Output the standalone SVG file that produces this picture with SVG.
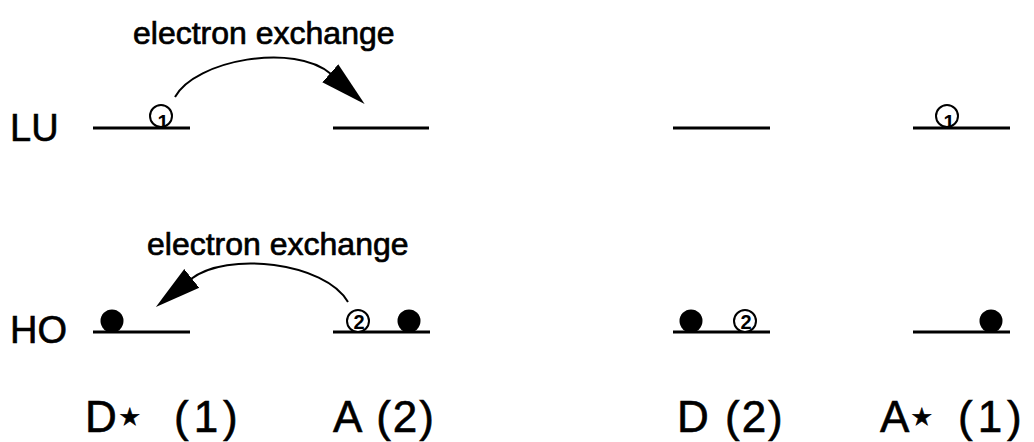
<svg xmlns="http://www.w3.org/2000/svg" width="1034" height="442" viewBox="0 0 1034 442">
<style>
.lbl{font-family:"Liberation Sans",Arial,sans-serif;font-size:38px;fill:#000;stroke:#000;stroke-width:0.6}
.big{font-family:"Liberation Sans",Arial,sans-serif;font-size:44px;letter-spacing:2px;fill:#000;stroke:#000;stroke-width:0.6}
.cap{font-family:"Liberation Sans",Arial,sans-serif;font-size:32px;fill:#000;stroke:#000;stroke-width:0.7}
.lvl{stroke:#000;stroke-width:3;fill:none}
.orb{fill:#fff;stroke:#000;stroke-width:2}
.dot{fill:#000}
.num{font-family:"Liberation Sans",Arial,sans-serif;font-size:20px;font-weight:bold;fill:#000}
.arc{stroke:#000;stroke-width:2;fill:none}
.star{font-size:24px}
</style>
<defs>
<marker id="ah" markerUnits="userSpaceOnUse" markerWidth="50" markerHeight="26" refX="1" refY="12" orient="auto" viewBox="0 0 50 24">
<path d="M0,0 L46,12 L0,24 z" fill="#000"/>
</marker>
</defs>
<text class="lbl" x="10" y="141">LU</text>
<text class="lbl" x="10" y="343">HO</text>
<g id="Dstar">
<line class="lvl" x1="93" y1="128" x2="190" y2="128"/>
<circle class="orb" cx="161" cy="116" r="11"/>
<text class="num" x="163" y="129" text-anchor="middle">1</text>
<line class="lvl" x1="93" y1="332" x2="190" y2="332"/>
<circle class="dot" cx="112" cy="321" r="11.5"/>
<text class="big" x="85" y="432">D<tspan class="star" dy="-7">★</tspan><tspan x="174" dy="7" letter-spacing="5">(1)</tspan></text>
</g>
<g id="A">
<line class="lvl" x1="333" y1="128" x2="429" y2="128"/>
<line class="lvl" x1="333" y1="332" x2="430" y2="332"/>
<circle class="orb" cx="358" cy="321" r="11"/>
<text class="num" x="359" y="329" text-anchor="middle">2</text>
<circle class="dot" cx="409" cy="321" r="11.5"/>
<text class="big" x="333" y="432">A (2)</text>
</g>
<g id="D">
<line class="lvl" x1="673" y1="128" x2="770" y2="128"/>
<line class="lvl" x1="673" y1="332" x2="770" y2="332"/>
<circle class="dot" cx="691" cy="321" r="11.5"/>
<circle class="orb" cx="745" cy="321" r="11"/>
<text class="num" x="746" y="329" text-anchor="middle">2</text>
<text class="big" x="677" y="432">D (2)</text>
</g>
<g id="Astar">
<line class="lvl" x1="913" y1="128" x2="1010" y2="128"/>
<circle class="orb" cx="947" cy="116" r="11"/>
<text class="num" x="949" y="129" text-anchor="middle">1</text>
<line class="lvl" x1="913" y1="332" x2="1010" y2="332"/>
<circle class="dot" cx="991" cy="321" r="11.5"/>
<text class="big" x="880" y="432">A<tspan class="star" dy="-7">★</tspan><tspan x="958" dy="7" letter-spacing="5">(1)</tspan></text>
</g>
<g id="connectors">
<path class="arc" d="M175,97 C195,60 295,42 331,74" marker-end="url(#ah)"/>
<text class="cap" x="133" y="44">electron exchange</text>
<path class="arc" d="M348,302 C325,262 226,251 191,279" marker-end="url(#ah)"/>
<text class="cap" x="147" y="255">electron exchange</text>
</g>
</svg>
